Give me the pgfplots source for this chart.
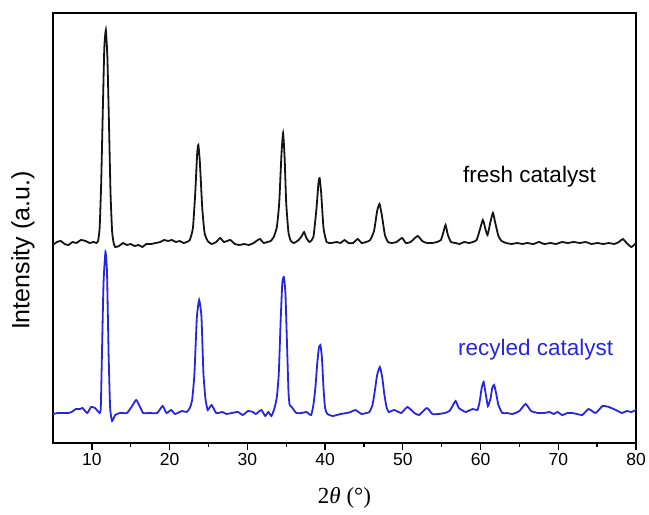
\documentclass[border=0pt]{standalone}
\usepackage{pgfplots}
\pgfplotsset{compat=1.18}
\usepackage{fontspec}
\setmainfont{Liberation Sans}
\newfontfamily\seriffont{Liberation Serif}
\definecolor{rblue}{rgb}{0.15,0.15,0.88}
\definecolor{fblack}{rgb}{0.08,0.08,0.08}
\begin{document}
\begin{tikzpicture}
\begin{axis}[
  scale only axis,
  width=583bp, height=430bp,
  xmin=5, xmax=80, ymin=0, ymax=430,
  xtick={10,20,...,80},
  minor x tick num=1,
  xtick pos=bottom,
  ytick=\empty,
  tick align=outside,
  major tick length=7bp,
  minor tick length=4bp,
  axis line style={line width=1.4bp},
  every tick/.style={line width=1.3bp, black},
  /pgf/number format/assume math mode=true,
  ticklabel style={font=\fontsize{17.5bp}{20bp}\selectfont},
  xlabel={{\seriffont 2\textit{θ} (°)}},
  xlabel style={font=\fontsize{23bp}{27bp}\selectfont, at={(axis description cs:0.5,-0.128)}, anchor=center},
  ylabel={Intensity (a.u.)},
  ylabel style={font=\fontsize{25bp}{30bp}\selectfont, at={(axis description cs:-0.0515,0.447)}, anchor=center, rotate=0},
  clip=true,
]
% fresh catalyst
\addplot[fblack, line width=1.8bp, smooth, tension=0.3] coordinates {
(5.0,198) (5.5,201) (6.0,202) (6.5,199) (7.0,198) (7.5,201) (8.0,200) (8.6,203) (9.2,202) (9.7,200) (10.2,201) (10.6,200)
(10.8,202) (11.0,215) (11.2,260) (11.4,330) (11.6,395) (11.8,413) (12.0,385) (12.2,320) (12.4,250) (12.6,212) (12.8,200) (13.0,196)
(13.5,197) (14.0,200) (14.5,198) (15.0,199) (15.5,197) (16.0,198) (16.5,196) (17.0,199) (17.6,199) (18.2,200) (18.8,201)
(19.3,203) (19.8,202) (20.3,203) (20.8,201) (21.3,202) (21.8,200) (22.2,201)
(22.6,203) (23.0,215) (23.3,250) (23.55,290) (23.7,298) (23.9,280) (24.2,235) (24.5,210) (24.9,202)
(25.4,199) (26.0,201) (26.5,205) (27.0,201) (27.8,203) (28.4,199) (29.0,198) (29.6,199) (30.2,198) (30.8,200) (31.6,204) (32.1,200) (32.6,201) (33.0,202)
(33.4,206) (33.8,216) (34.1,240) (34.4,290) (34.6,310) (34.8,285) (35.0,240) (35.3,210) (35.6,202) (36.0,200) (36.6,203) (37.0,207) (37.3,211) (37.6,205) (38.0,201)
(38.5,206) (38.9,235) (39.15,260) (39.3,265) (39.5,250) (39.8,215) (40.2,201)
(40.8,200) (41.5,201) (42.0,200) (42.5,203) (43.0,200) (43.6,200) (44.2,204) (44.7,200) (45.3,201)
(45.8,203) (46.3,212) (46.7,232) (47.0,239) (47.3,228) (47.7,208) (48.1,201)
(48.6,200) (49.2,201) (49.9,205) (50.4,200) (51.0,201) (51.9,207) (52.5,202) (53.1,200) (53.8,200) (54.4,201) (54.9,203)
(55.2,210) (55.5,218) (55.8,208) (56.2,201) (56.8,200) (57.3,199) (57.9,201) (58.5,200) (59.0,201)
(59.5,203) (59.9,213) (60.3,223) (60.6,215) (60.9,208) (61.3,222) (61.6,230) (61.9,220) (62.3,207) (62.7,202)
(63.3,200) (64.0,199) (64.7,200) (65.4,199) (66.0,200) (66.8,199) (67.5,201) (68.2,199) (69.0,200) (69.7,199) (70.5,201) (71.2,200) (72.0,201) (72.8,200) (73.5,201) (74.3,199) (75.0,200) (75.8,199) (76.5,200) (77.2,199) (77.8,201) (78.3,204) (78.8,200) (79.4,196) (80.0,200)
};
% recycled catalyst
\addplot[rblue, line width=1.8bp, smooth, tension=0.3] coordinates {
(5.0,29) (5.6,30) (6.3,30) (7.0,30) (7.4,31) (7.95,34) (8.5,34) (8.8,35) (9.4,30) (9.9,36) (10.4,35) (11.0,30)
(11.15,36) (11.3,90) (11.5,160) (11.75,191) (11.95,170) (12.15,90) (12.35,35) (12.6,22) (13.0,28)
(13.6,30) (14.5,30) (15.1,36) (15.7,43) (16.2,36) (16.6,30) (17.4,30) (18.4,30) (19.1,37) (19.6,30) (20.2,33) (20.7,29) (21.6,32) (22.2,31)
(22.6,35) (22.9,43) (23.2,70) (23.5,125) (23.8,143) (24.1,126) (24.35,70) (24.6,45) (24.9,33) (25.4,38) (26.0,30) (26.8,31) (27.3,29) (28.0,30) (28.8,31) (29.4,28) (30.1,32) (30.7,31) (31.1,29) (31.8,33) (32.3,27) (32.7,31) (33.1,27)
(33.5,35) (33.8,46) (34.05,70) (34.3,125) (34.5,160) (34.7,166) (34.9,150) (35.1,100) (35.3,50) (35.45,38) (35.7,36) (36.3,30) (37.0,30) (37.6,31) (38.2,28)
(38.5,38) (38.75,55) (39.0,80) (39.2,95) (39.4,98) (39.6,85) (39.8,55) (40.0,35) (40.3,29) (41.0,27) (42.0,29) (42.8,30) (43.3,31) (43.9,33) (44.7,29) (45.3,30) (45.7,31)
(46.1,38) (46.4,52) (46.7,68) (47.05,76) (47.35,66) (47.6,50) (47.9,36) (48.2,31) (48.9,33) (49.8,30) (50.6,36) (51.5,30) (52.1,28) (53.1,35) (53.8,29) (54.6,29) (55.4,30)
(56.0,32) (56.4,37) (56.8,42) (57.2,35) (57.6,33) (58.1,31) (59.0,34) (59.6,33)
(59.9,42) (60.15,55) (60.4,61) (60.65,50) (60.95,37) (61.3,45) (61.5,55) (61.75,58) (62.0,50) (62.3,38) (62.8,30)
(63.4,30) (64.1,29) (65.0,32) (65.8,39) (66.5,32) (67.4,30) (68.2,30) (68.9,31) (69.4,29) (69.9,31) (70.5,28) (71.2,30) (71.8,30) (72.4,29) (73.1,28) (73.9,34) (74.8,30) (75.7,37) (76.5,36) (77.4,33) (78.2,30) (78.8,32) (79.4,31) (80.0,33)
};
\node[font=\fontsize{22.5bp}{27bp}\selectfont, text=black, anchor=center] at (axis cs:66.3,266) {fresh catalyst};
\node[font=\fontsize{22.5bp}{27bp}\selectfont, text=rblue, anchor=center] at (axis cs:67.1,93) {recyled catalyst};
\end{axis}
\pgfresetboundingbox
\path ([shift={(-53bp,-72bp)}]current axis.south west) rectangle ([shift={(13bp,13bp)}]current axis.north east);
\end{tikzpicture}
\end{document}
